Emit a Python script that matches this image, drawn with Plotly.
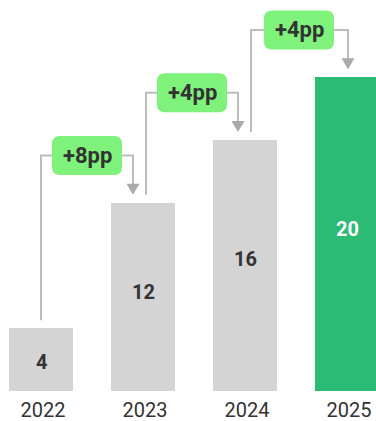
import plotly.graph_objects as go

categories = ["2022", "2023", "2024", "2025"]
values = [4, 12, 16, 20]
deltas = ["+8pp", "+4pp", "+4pp"]

GRAY_BAR = "#d4d4d4"
GREEN_BAR = "#2bbb74"
BOX_GREEN = "#7ef27a"
LINE_GRAY = "#bdbdbd"
ARROW_GRAY = "#aaaaaa"
TEXT = "#333333"
FONT = "Roboto"

W, H = 376, 421
PX_PER_CAT = 102.0
X0_PX = 41.0
x_range = [-X0_PX / PX_PER_CAT, (W - X0_PX) / PX_PER_CAT]

xs = list(range(len(categories)))
colors = [GRAY_BAR] * (len(values) - 1) + [GREEN_BAR]
text_colors = [TEXT] * (len(values) - 1) + ["white"]
LABEL_YSHIFT = [-2, 5, 6, 5]

fig = go.Figure()
fig.add_trace(go.Bar(
    x=xs, y=values, width=64 / PX_PER_CAT,
    marker=dict(color=colors, line=dict(width=0)),
    hoverinfo="skip",
))

# connector style offsets (pixels)
START_SHIFT = [0, 3, 6]
ARROW_SHIFT = [-10, -7, 1]
BOX_SHIFT = [46, 49, 54]
BOX_W, BOX_H, R = 70, 39, 8

shapes = []
annotations = []
for i, v in enumerate(values):
    annotations.append(dict(x=i, y=v / 2, xref="x", yref="y", text=str(v),
                            showarrow=False, yshift=LABEL_YSHIFT[i],
                            font=dict(family=FONT, size=20, color=text_colors[i],
                                      weight="bold")))

for i, d in enumerate(deltas):
    xs_ = i + START_SHIFT[i] / PX_PER_CAT
    xa_ = i + 1 + ARROW_SHIFT[i] / PX_PER_CAT
    xb = i + BOX_SHIFT[i] / PX_PER_CAT
    y_start = values[i] + 0.5
    y_box = values[i + 1] + 3
    y_tip = values[i + 1] + 0.5
    half = BOX_W / 2 / PX_PER_CAT
    shapes.append(dict(type="path", xref="x", yref="y",
                       path=f"M{xs_},{y_start} L{xs_},{y_box} L{xb - half},{y_box}",
                       line=dict(color=LINE_GRAY, width=2), layer="below"))
    shapes.append(dict(type="path", xref="x", yref="y",
                       path=f"M{xb + half},{y_box} L{xa_},{y_box} L{xa_},{y_tip + 0.6}",
                       line=dict(color=LINE_GRAY, width=2), layer="below"))
    shapes.append(dict(type="path", xref="x", yref="y",
                       xsizemode="pixel", ysizemode="pixel",
                       xanchor=xa_, yanchor=y_tip,
                       path="M-6.5,11 L6.5,11 L0,0 Z",
                       fillcolor=ARROW_GRAY, line=dict(width=0)))
    hw, hh = BOX_W / 2, BOX_H / 2
    p = (f"M{-hw + R},{-hh} L{hw - R},{-hh} Q{hw},{-hh} {hw},{-hh + R} "
         f"L{hw},{hh - R} Q{hw},{hh} {hw - R},{hh} L{-hw + R},{hh} "
         f"Q{-hw},{hh} {-hw},{hh - R} L{-hw},{-hh + R} Q{-hw},{-hh} {-hw + R},{-hh} Z")
    shapes.append(dict(type="path", xref="x", yref="y",
                       xsizemode="pixel", ysizemode="pixel",
                       xanchor=xb, yanchor=y_box, path=p,
                       fillcolor=BOX_GREEN, line=dict(width=0)))
    annotations.append(dict(x=xb, y=y_box, xref="x", yref="y", text=d,
                            showarrow=False,
                            font=dict(family=FONT, size=22, color=TEXT, weight="bold")))

fig.update_layout(
    width=W, height=H,
    margin=dict(l=0, r=0, t=0, b=30, autoexpand=False),
    paper_bgcolor="white", plot_bgcolor="white",
    showlegend=False,
    bargap=0,
    xaxis=dict(range=x_range, tickvals=xs, ticktext=categories, automargin=False,
               showgrid=False, zeroline=False, showline=False, ticks="",
               ticklabelshift=2, ticklabelstandoff=5,
               tickfont=dict(family=FONT, size=20, color=TEXT)),
    yaxis=dict(range=[0, 391 / 15.7], visible=False, showgrid=False, zeroline=False,
               automargin=False),
    shapes=shapes, annotations=annotations,
)

fig.write_html("out.html")
